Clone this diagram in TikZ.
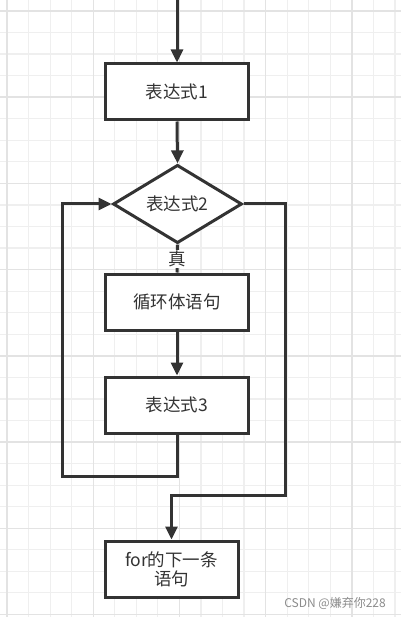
\documentclass[tikz,border=0pt]{standalone}
\usepackage{fontspec}
\setmainfont{Noto Sans CJK SC}
\usetikzlibrary{arrows.meta,shapes.geometric}
\definecolor{ink}{HTML}{333333}
\definecolor{gridminor}{HTML}{EFEFEF}
\definecolor{gridmajor}{HTML}{E3E3E3}
\definecolor{mark}{HTML}{8C8C8C}
\tikzset{
  box/.style={draw=ink, line width=3pt, fill=white, rectangle, minimum width=143pt, minimum height=56pt, inner sep=0pt, text=ink, font=\fontsize{17.5}{22}\selectfont, align=center},
  decision/.style={draw=ink, line width=3pt, fill=white, diamond, minimum width=129pt, minimum height=77pt, inner sep=0pt, text=ink, font=\fontsize{17.5}{22}\selectfont},
  flow/.style={draw=ink, line width=3pt, -{Triangle[length=13pt,width=12pt]}},
  plain/.style={draw=ink, line width=3pt},
  lbl/.style={fill=white, text=ink, inner sep=1pt, font=\fontsize{17.5}{22}\selectfont},
}
\begin{document}
\begin{tikzpicture}[x=1pt,y=-1pt]
\useasboundingbox (0,0) rectangle (401,617);
\fill[white] (0,0) rectangle (401,617);
% grid
\foreach \k in {0,...,18} {
  \pgfmathsetmacro\gx{7+21.55*\k}
  \draw[gridminor, line width=1.2pt] (\gx,0) -- (\gx,617);
}
\foreach \k in {0,...,28} {
  \pgfmathsetmacro\gy{11+21.55*\k}
  \draw[gridminor, line width=1.2pt] (0,\gy) -- (401,\gy);
}
\foreach \k in {0,4,...,16} {
  \pgfmathsetmacro\gx{7+21.55*\k}
  \draw[gridmajor, line width=1.4pt] (\gx,0) -- (\gx,617);
}
\foreach \k in {0,4,...,28} {
  \pgfmathsetmacro\gy{11+21.55*\k}
  \draw[gridmajor, line width=1.4pt] (0,\gy) -- (401,\gy);
}
% nodes
\node[box] (e1) at (177,92) {表达式1};
\node[decision] (e2) at (177.5,204) {表达式2};
\node[box] (body) at (177,302) {循环体语句};
\node[box] (e3) at (177,405) {表达式3};
\node[box, minimum width=133pt] (next) at (171.5,569) {for的下一条\\[-3pt]语句};
% connectors
\coordinate (start) at (177,-3);
\draw[flow] (start) -- (e1.north);
\draw[flow] (e1.south) -- (e2.north);
\draw[plain] (e2.south) -- node[lbl, pos=0.5] (t) {真} (body.north);
\draw[flow] (body.south) -- (e3.north);
\coordinate (b1) at (177,476);
\coordinate (b2) at (62,476);
\coordinate (b3) at (62,204);
\draw[flow] (e3.south) -- (b1) -- (b2) -- (b3) -- (e2.west);
\coordinate (r1) at (285,204);
\coordinate (r2) at (285,495);
\coordinate (r3) at (171.5,495);
\draw[flow] (e2.east) -- (r1) -- (r2) -- (r3) -- (next.north);
% watermark
\node[text=mark, anchor=east, inner sep=0pt, font=\fontsize{12}{14}\selectfont] (csdn) at (386,603) {CSDN @嫌弃你228};
\end{tikzpicture}
\end{document}
